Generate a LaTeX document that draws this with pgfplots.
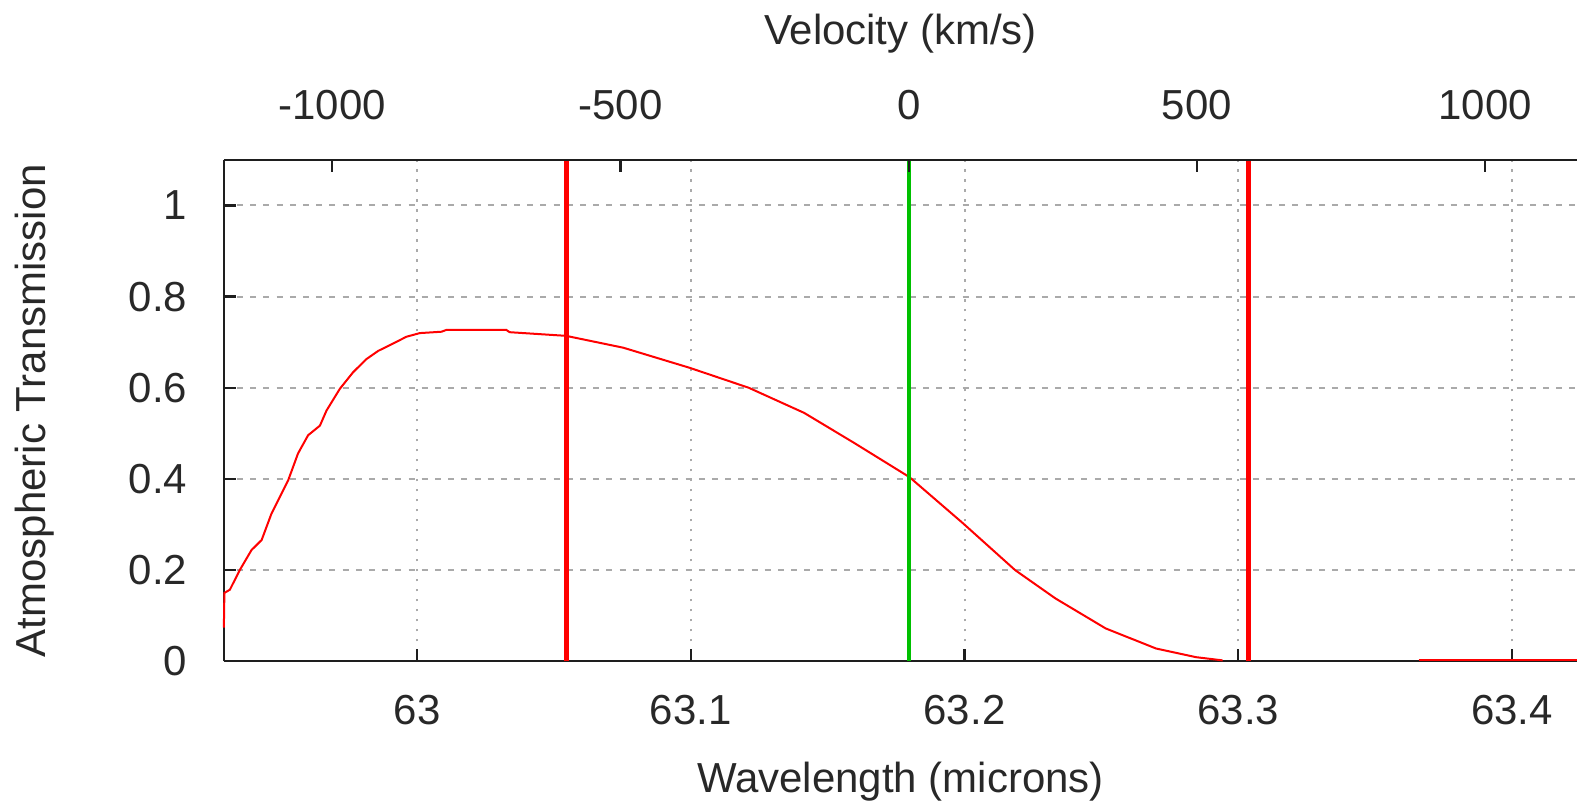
\documentclass[border=0pt]{standalone}
\usepackage{fontspec}
\setmainfont{Liberation Sans}
\usepackage{pgfplots}
\pgfplotsset{compat=1.18}
\definecolor{gpred}{RGB}{255,0,0}
\definecolor{gpgreen}{RGB}{0,192,0}
\definecolor{gridgray}{RGB}{170,170,170}
\definecolor{border}{RGB}{30,30,30}
\definecolor{txt}{RGB}{40,40,40}
\begin{document}
\begin{tikzpicture}
\begin{axis}[
  scale only axis,
  width=338.5pt, height=125.425pt,
  xmin=62.9294, xmax=63.4238,
  ymin=0, ymax=1.1,
  axis x line*=bottom, axis y line*=left,
  axis line style={border, line width=0.6pt},
  xtick={63,63.1,63.2,63.3,63.4},
  xticklabels={63,63.1,63.2,63.3,63.4},
  ytick={0,0.2,0.4,0.6,0.8,1},
  yticklabels={0,0.2,0.4,0.6,0.8,1},
  tick align=inside,
  major tick length=3pt,
  tick style={border, line width=0.6pt},
  xmajorgrids, ymajorgrids,
  x grid style={gridgray, line width=0.5pt, dash pattern=on 0.6pt off 1.9pt},
  y grid style={gridgray, line width=0.5pt, dash pattern=on 1.5pt off 1.8pt},
  font=\fontsize{10.5pt}{12pt}\selectfont,
  every tick label/.append style={text=txt},
  xticklabel style={anchor=center, inner sep=0pt, yshift=-12.3pt},
  yticklabel style={anchor=east, inner sep=0pt, xshift=-9pt},
  xlabel={Wavelength (microns)},
  ylabel={Atmospheric Transmission},
  xlabel style={at={(axis description cs:0.5,-0.2392)}, anchor=center, inner sep=0pt, text=txt},
  ylabel style={at={(axis description cs:-0.1396,0.5)}, anchor=center, inner sep=0pt, text=txt},
  clip=false,
]
\addplot[gpred, line width=0.5pt] coordinates {
(62.9294,0.074)
(62.9296,0.150)
(62.9316,0.157)
(62.9352,0.200)
(62.9395,0.244)
(62.9432,0.266)
(62.9468,0.324)
(62.9529,0.397)
(62.9565,0.456)
(62.9602,0.496)
(62.9645,0.517)
(62.9669,0.550)
(62.9718,0.598)
(62.9766,0.634)
(62.9815,0.663)
(62.9858,0.681)
(62.9912,0.697)
(62.9961,0.712)
(63.0010,0.720)
(63.0089,0.723)
(63.0107,0.727)
(63.0326,0.727)
(63.0338,0.722)
(63.0544,0.714)
(63.0753,0.688)
(63.0995,0.644)
(63.1212,0.600)
(63.1414,0.545)
(63.1597,0.479)
(63.1799,0.404)
(63.1994,0.303)
(63.2185,0.200)
(63.2332,0.138)
(63.2516,0.072)
(63.2700,0.028)
(63.2846,0.009)
(63.2943,0.002)
};
\addplot[gpred, line width=0.5pt] coordinates {(63.3659,0.002) (63.4238,0.002)};
\addplot[gpred, line width=1.1pt] coordinates {(63.0546,0) (63.0546,1.1)};
\addplot[gpred, line width=1.1pt] coordinates {(63.3038,0) (63.3038,1.1)};
\addplot[gpgreen, line width=1.1pt] coordinates {(63.1797,0) (63.1797,1.1)};
\end{axis}
\begin{axis}[
  scale only axis,
  width=338.5pt, height=125.425pt,
  xmin=-1188.0, xmax=1159.2,
  ymin=0, ymax=1.1,
  axis x line*=top, axis y line=none,
  axis line style={border, line width=0.6pt},
  xtick={-1000,-500,0,500,1000},
  xticklabels={-1000,-500,0,500,1000},
  tick align=inside,
  major tick length=3pt,
  tick style={border, line width=0.6pt},
  font=\fontsize{10.5pt}{12pt}\selectfont,
  every tick label/.append style={text=txt},
  xticklabel style={anchor=center, inner sep=0pt, yshift=13.6pt},
  xlabel={Velocity (km/s)},
  xlabel style={at={(axis description cs:0.5,1.2527)}, anchor=center, inner sep=0pt, text=txt},
]
\end{axis}
\pgfresetboundingbox
\useasboundingbox ([shift={(-56pt,-36.1pt)}]current axis.south west) rectangle ([shift={(0pt,40pt)}]current axis.north east);
\end{tikzpicture}
\end{document}
